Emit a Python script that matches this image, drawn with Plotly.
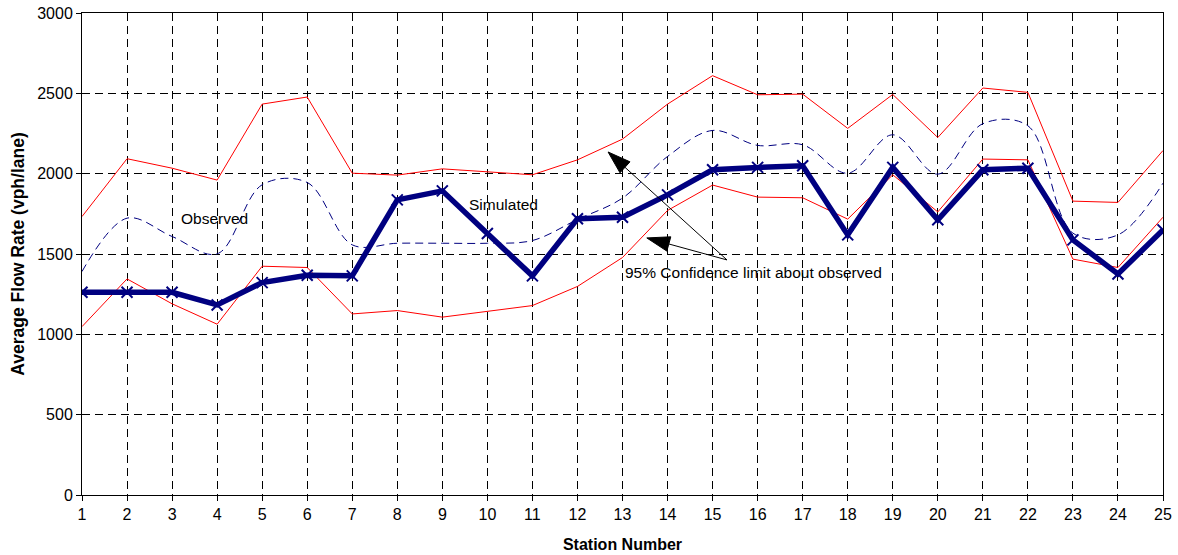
import plotly.graph_objects as go

stations = list(range(1, 26))
simulated = [1262, 1262, 1262, 1183, 1322, 1368, 1364, 1837, 1893, 1628, 1364, 1719, 1729,
             1868, 2024, 2039, 2049, 1619, 2039, 1713, 2024, 2034, 1588, 1376, 1650]
observed = [1391, 1723, 1609, 1501, 1931, 1945, 1557, 1567, 1567, 1567, 1584, 1715, 1848,
            2107, 2269, 2176, 2180, 2003, 2242, 1997, 2311, 2298, 1630, 1619, 1941]
upper_ci = [1733, 2093, 2034, 1960, 2433, 2477, 2003, 1991, 2030, 2012, 1993, 2086, 2215,
            2433, 2610, 2491, 2495, 2282, 2493, 2225, 2533, 2506, 1829, 1821, 2144]
lower_ci = [1048, 1345, 1190, 1063, 1424, 1416, 1127, 1148, 1107, 1142, 1179, 1298, 1478,
            1771, 1929, 1854, 1850, 1717, 1993, 1762, 2091, 2086, 1468, 1416, 1729]
y_ticks = [0, 500, 1000, 1500, 2000, 2500, 3000]

NAVY = "#000080"
FONT = "Liberation Sans, Arial, sans-serif"

fig = go.Figure()
fig.add_trace(go.Scatter(x=stations, y=upper_ci, mode="lines",
                         line=dict(color="#ff0000", width=1), name="Upper 95%"))
fig.add_trace(go.Scatter(x=stations, y=lower_ci, mode="lines",
                         line=dict(color="#ff0000", width=1), name="Lower 95%"))
fig.add_trace(go.Scatter(x=stations, y=observed, mode="lines",
                         line=dict(color=NAVY, width=1, dash="8px,5px", shape="spline", smoothing=1),
                         name="Observed"))
fig.add_trace(go.Scatter(x=stations, y=simulated, mode="lines+markers",
                         line=dict(color=NAVY, width=5.5),
                         marker=dict(symbol="x-thin", size=11, line=dict(width=2, color=NAVY)),
                         name="Simulated"))

# callout arrows (tail at the label, head pointing to the confidence limits)
tail = (15.32, 1463)
for tip in [(12.68, 2135), (13.54, 1600)]:
    fig.add_trace(go.Scatter(x=[tail[0], tip[0]], y=[tail[1], tip[1]], mode="lines+markers",
                             line=dict(color="#000000", width=1),
                             marker=dict(symbol="arrow", angleref="previous", size=[0, 24],
                                         color="#000000", opacity=1,
                                         line=dict(width=1, color="#000000")),
                             hoverinfo="skip", showlegend=False))

ann_font = dict(family=FONT, size=15.5, color="#000000")
fig.add_annotation(x=3.95, y=1724, text="Observed", showarrow=False, font=ann_font)
fig.add_annotation(x=10.35, y=1811, text="Simulated", showarrow=False, font=ann_font)
fig.add_annotation(x=15.9, y=1382, text="95% Confidence limit about observed",
                   showarrow=False, font=ann_font)

axis_common = dict(showline=True, linecolor="#000000", linewidth=1, mirror=True,
                   showgrid=True, gridcolor="#000000", gridwidth=1, griddash="8px,5px",
                   ticks="outside", ticklen=5, tickcolor="#000000", zeroline=False,
                   automargin=False,
                   tickfont=dict(family=FONT, size=16, color="#000000"))

fig.update_xaxes(range=[1, 25], tickmode="array", tickvals=stations,
                 title=dict(text="<b>Station Number</b>", font=dict(family=FONT, size=16, color="#000000"),
                            standoff=16),
                 **axis_common)
fig.update_yaxes(range=[0, 3000], tickmode="array", tickvals=y_ticks,
                 title=dict(text="<b>Average Flow Rate (vph/lane)</b>",
                            font=dict(family=FONT, size=17.5, color="#000000"), standoff=8),
                 **axis_common)

fig.update_layout(width=1178, height=555, showlegend=False,
                  plot_bgcolor="#ffffff", paper_bgcolor="#ffffff",
                  margin=dict(l=82, r=15, t=13, b=60),
                  font=dict(family=FONT, color="#000000"))

fig.write_html("out.html", config={"displayModeBar": False},
               post_script="document.body.style.margin='0';")
